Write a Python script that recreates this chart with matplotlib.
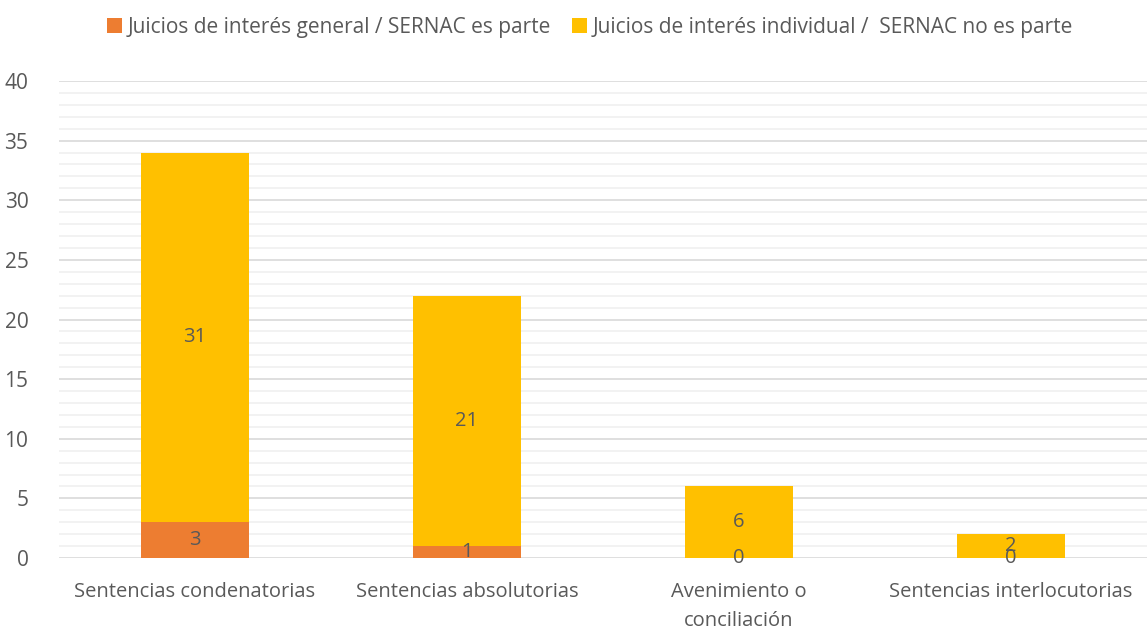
import numpy as np
import matplotlib.pyplot as plt
from matplotlib.ticker import MultipleLocator

categories = ['Sentencias condenatorias', 'Sentencias absolutorias',
              'Avenimiento o\nconciliación', 'Sentencias interlocutorias']
general = [3, 1, 0, 0]
individual = [31, 21, 6, 2]
series_names = ['Juicios de interés general / SERNAC es parte',
                'Juicios de interés individual /  SERNAC no es parte']

ORANGE = '#ED7D31'
YELLOW = '#FFC000'
TEXT = '#595959'

plt.rcParams['font.family'] = ['Open Sans', 'DejaVu Sans']

fig = plt.figure(figsize=(11.47, 6.3), dpi=100)
ax = fig.add_axes([0.0514, 0.1143, 0.9486, 0.7571])

x = np.arange(len(categories))
width = 0.40
b1 = ax.bar(x, general, width, color=ORANGE, label=series_names[0], zorder=3)
b2 = ax.bar(x, individual, width, bottom=general, color=YELLOW, label=series_names[1], zorder=3)

for bars, vals, bottoms in [(b1, general, [0]*4), (b2, individual, general)]:
    for rect, v, b in zip(bars, vals, bottoms):
        ax.text(rect.get_x() + rect.get_width() / 2, b + v / 2, str(v),
                ha='center', va='center', fontsize=14.5, color=TEXT, zorder=4)

ax.set_xlim(-0.5, len(categories) - 0.5)
ax.set_ylim(0, 40)
ax.yaxis.set_major_locator(MultipleLocator(5))
ax.yaxis.set_minor_locator(MultipleLocator(1))
ax.grid(which='major', axis='y', color='#d9d9d9', linewidth=1.2, zorder=0)
ax.grid(which='minor', axis='y', color='#f0f0f0', linewidth=1.2, zorder=0)
ax.tick_params(axis='both', which='both', length=0, colors=TEXT, labelsize=15)
ax.tick_params(axis='y', pad=22)
ax.tick_params(axis='x', pad=17)
ax.set_xticks(x)
ax.set_xticklabels(categories, fontsize=14.5, color=TEXT, linespacing=1.6)
for s in ax.spines.values():
    s.set_visible(False)

ax.legend(loc='center', bbox_to_anchor=(0.488, 1.113), ncol=2, frameon=False,
          fontsize=15, labelcolor=TEXT, handlelength=0.75, handleheight=0.75,
          handletextpad=0.25, columnspacing=1.0, borderaxespad=0)

fig.savefig('out.png', dpi=100)
